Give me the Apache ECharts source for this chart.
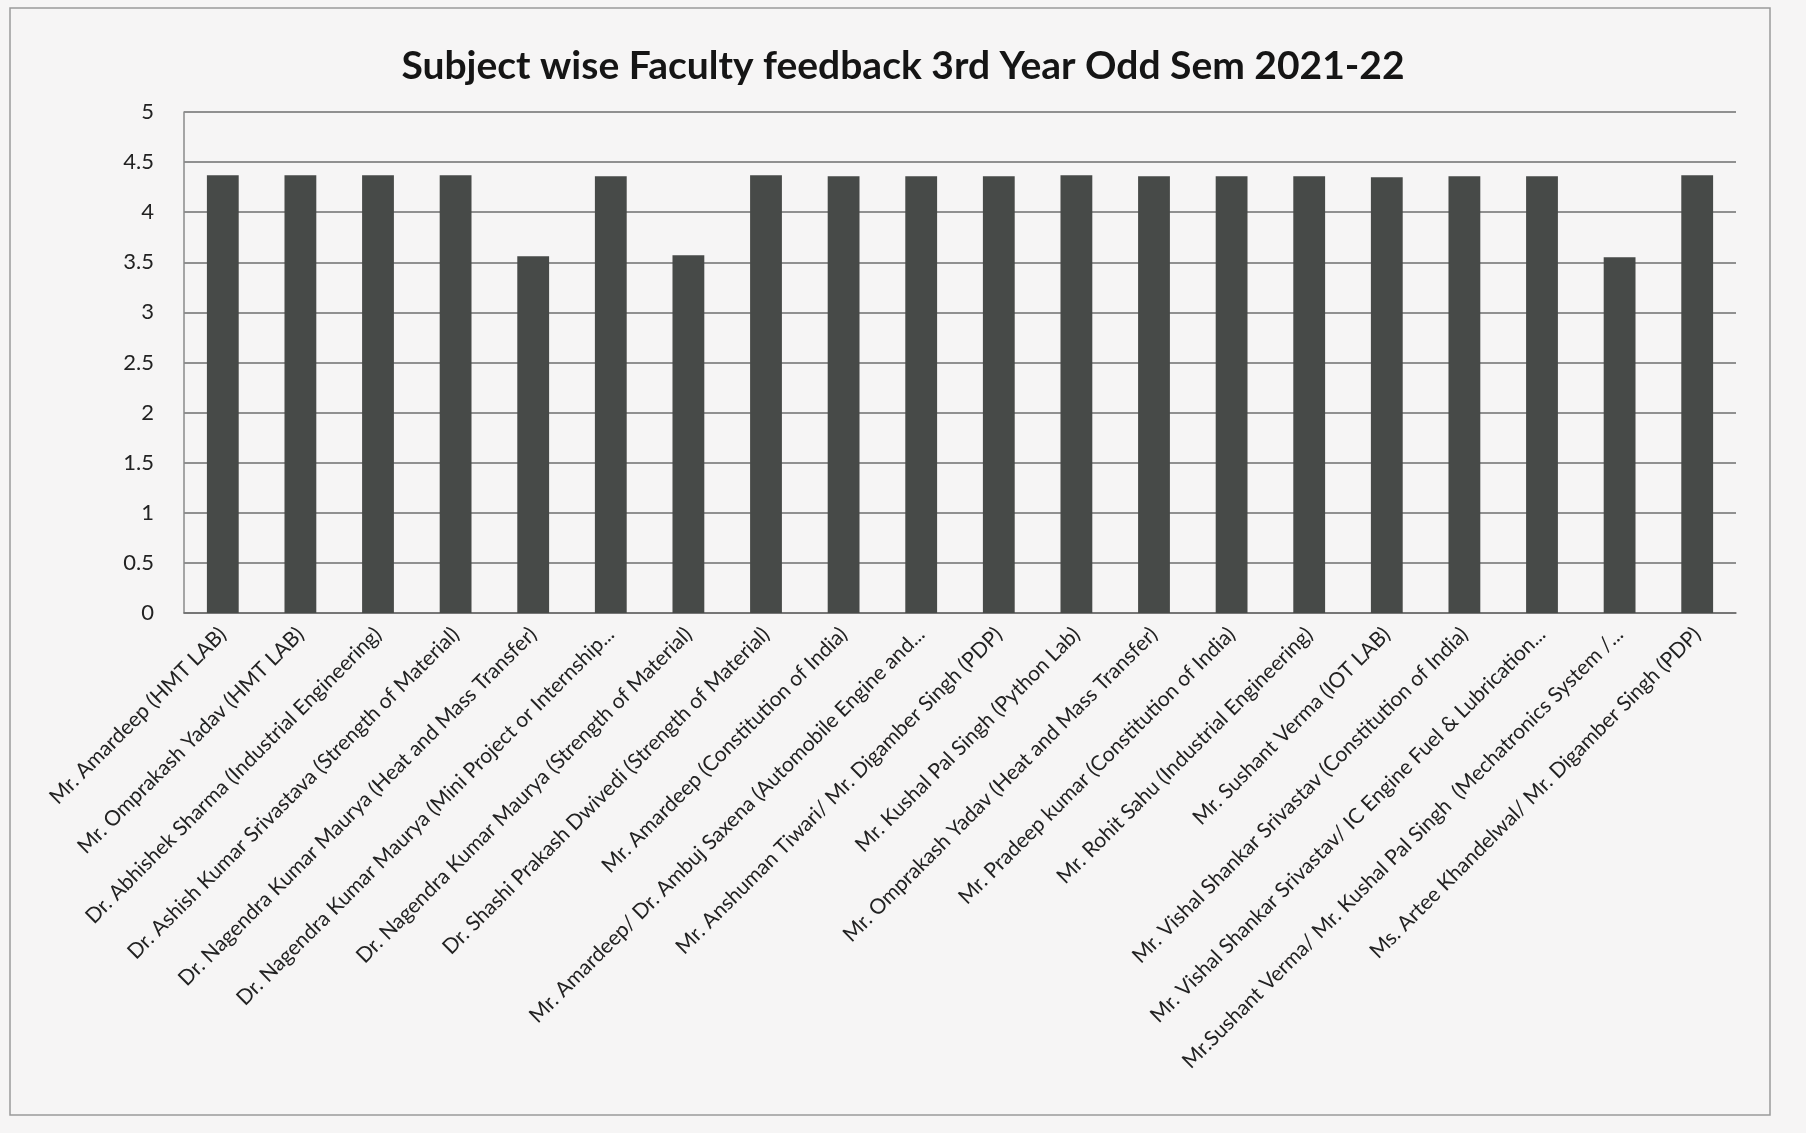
<!DOCTYPE html>
<html>
<head>
<meta charset="utf-8">
<script src="https://cdn.jsdelivr.net/npm/echarts@6/dist/echarts.min.js"></script>
<style>
  html, body { margin: 0; padding: 0; background: #f6f5f5; }
  #chart { width: 1806px; height: 1133px; }
</style>
</head>
<body>
<div id="chart"></div>
<script>
const titleText = 'Subject wise Faculty feedback 3rd Year Odd Sem 2021-22'

const faculty = [
  'Mr. Amardeep (HMT LAB)',
  'Mr. Omprakash Yadav (HMT LAB)',
  'Dr. Abhishek Sharma (Industrial Engineering)',
  'Dr. Ashish Kumar Srivastava (Strength of Material)',
  'Dr. Nagendra Kumar Maurya (Heat and Mass Transfer)',
  'Dr. Nagendra Kumar Maurya (Mini Project or Internship...',
  'Dr. Nagendra Kumar Maurya (Strength of Material)',
  'Dr. Shashi Prakash Dwivedi (Strength of Material)',
  'Mr. Amardeep (Constitution of India)',
  'Mr. Amardeep/ Dr. Ambuj Saxena (Automobile Engine and...',
  'Mr. Anshuman Tiwari/ Mr. Digamber Singh (PDP)',
  'Mr. Kushal Pal Singh (Python Lab)',
  'Mr. Omprakash Yadav (Heat and Mass Transfer)',
  'Mr. Pradeep kumar (Constitution of India)',
  'Mr. Rohit Sahu (Industrial Engineering)',
  'Mr. Sushant Verma (IOT LAB)',
  'Mr. Vishal Shankar Srivastav (Constitution of India)',
  'Mr. Vishal Shankar Srivastav/ IC Engine Fuel & Lubrication...',
  'Mr.Sushant Verma/ Mr. Kushal Pal Singh  (Mechatronics System /...',
  'Ms. Artee Khandelwal/ Mr. Digamber Singh (PDP)',
]

const scores = [
  4.37, 4.37, 4.37, 4.37, 3.56, 4.36, 3.57, 4.37, 4.36, 4.36,
  4.36, 4.37, 4.36, 4.36, 4.36, 4.35, 4.36, 4.36, 3.55, 4.37,
]

const yMin = 0
const yMax = 5
const yStep = 0.5

const chart = echarts.init(document.getElementById('chart'))

chart.setOption({
  backgroundColor: '#f6f5f5',
  animation: false,
  textStyle: { fontFamily: 'Lato' },
  title: {
    text: titleText,
    left: 'center',
    top: 42,
    textStyle: { fontSize: 39, fontWeight: 'bold', color: '#151515', fontFamily: 'Lato' },
  },
  graphic: [
    {
      type: 'rect',
      shape: { x: 10, y: 8, width: 1760, height: 1107 },
      style: { fill: 'none', stroke: '#9a9a9a', lineWidth: 1.5 },
      silent: true,
    },
  ],
  grid: { left: 184, right: 70, top: 112, bottom: 520 },
  xAxis: {
    type: 'category',
    data: faculty,
    axisLine: { lineStyle: { color: '#6e6e6e', width: 1.5 } },
    axisTick: { show: false },
    axisLabel: {
      interval: 0,
      rotate: 45,
      margin: 18,
      fontSize: 21,
      color: '#222',
    },
  },
  yAxis: {
    type: 'value',
    min: yMin,
    max: yMax,
    interval: yStep,
    axisLine: { show: true, lineStyle: { color: '#8a8a8a', width: 1.5 } },
    axisTick: { show: false },
    axisLabel: { fontSize: 22, color: '#222', margin: 30 },
    splitLine: { lineStyle: { color: '#6e6e6e', width: 1.5 } },
  },
  series: [
    {
      type: 'bar',
      data: scores,
      barWidth: '41%',
      itemStyle: { color: '#474a48' },
    },
  ],
})
</script>
</body>
</html>
